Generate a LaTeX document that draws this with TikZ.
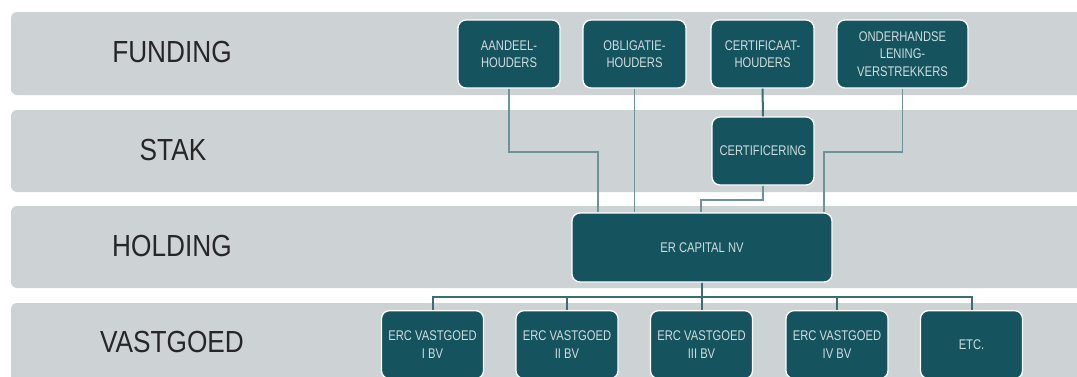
\documentclass[tikz,border=0pt]{standalone}
\usepackage{fontspec}
\setmainfont{Liberation Sans}[FakeStretch=0.86]
\newfontfamily\smal{Liberation Sans}[FakeStretch=0.8]
\definecolor{bandgrijs}{HTML}{CDD2D5}
\definecolor{blokteal}{HTML}{15535E}
\definecolor{bloktekst}{HTML}{CFDDE0}
\definecolor{lijndun}{HTML}{6E9299}
\definecolor{lijndik}{HTML}{3C6C75}
\tikzset{
  band/.style={fill=bandgrijs, draw=none, rounded corners=6pt},
  laag/.style={text=black!85, font=\fontsize{30.5}{34}\selectfont},
  blok/.style={fill=blokteal, draw=white, line width=1.3pt, rounded corners=8pt,
    text=bloktekst, align=center, font=\smal\fontsize{14}{17.5}\selectfont,
    minimum width=102pt, minimum height=68pt, inner sep=2pt},
  vblok/.style={blok, anchor=north},
  dun/.style={draw=lijndun, line width=1.1pt},
  dik/.style={draw=lijndik, line width=2pt}
}
\begin{document}
\begin{tikzpicture}[x=1pt, y=-1pt]
	\useasboundingbox (0,0) rectangle (1077,376);
	\clip (0,0) rectangle (1077,376);

	%banden
	\fill[band] (11,12) rectangle (1095,95);
	\fill[band] (11,110) rectangle (1095,192);
	\fill[band] (11,206) rectangle (1095,288);
	\fill[band] (11,303) rectangle (1095,400);

	\node[laag] (lfunding) at (172, 52) {FUNDING};
	\node[laag] (lstak) at (173, 150) {STAK};
	\node[laag] (lholding) at (172, 246) {HOLDING};
	\node[laag] (lvastgoed) at (172, 342) {VASTGOED};

	%funding
	\node[blok] (aandeel) at (509, 54) {AANDEEL-\\HOUDERS};
	\node[blok, minimum width=103pt] (obligatie) at (634.5, 54) {OBLIGATIE-\\HOUDERS};
	\node[blok, minimum width=103pt] (certificaat) at (762.5, 54) {CERTIFICAAT-\\HOUDERS};
	\node[blok, minimum width=131pt] (onderhandse) at (902.5, 54) {ONDERHANDSE\\LENING-\\VERSTREKKERS};

	%stak
	\node[blok] (certificering) at (763, 151) {CERTIFICERING};

	%holding
	\node[blok, minimum width=260pt, minimum height=69pt] (ercap) at (702, 247.5) {ER CAPITAL NV};

	%vastgoed
	\node[vblok] (v1) at (432.5, 310) {ERC VASTGOED\\I BV};
	\node[vblok] (v2) at (567, 310) {ERC VASTGOED\\II BV};
	\node[vblok] (v3) at (701.5, 310) {ERC VASTGOED\\III BV};
	\node[vblok] (v4) at (837, 310) {ERC VASTGOED\\IV BV};
	\node[vblok] (v5) at (971.5, 310) {ETC.};

	%lijnen boven
	\coordinate (k1) at (598, 152);
	\coordinate (k3) at (701, 200);
	\coordinate (k4) at (824, 152);
	\draw[dun] (aandeel.south) |- (k1) -- (k1 |- ercap.north);
	\draw[dun] (obligatie.south) -- (obligatie.south |- ercap.north);
	\draw[dik] (certificaat.south) -- (certificering.north);
	\draw[dun, line width=1.4pt] (certificering.south) |- (k3) -- (k3 |- ercap.north);
	\draw[dun] (onderhandse.south) |- (k4) -- (k4 |- ercap.north);

	%lijnen onder
	\coordinate (bus) at (702, 297);
	\foreach \v in {v1, v2, v3, v4, v5}
	   \draw[dik] (ercap.south) -- (bus) -| (\v.north);
\end{tikzpicture}
\end{document}
